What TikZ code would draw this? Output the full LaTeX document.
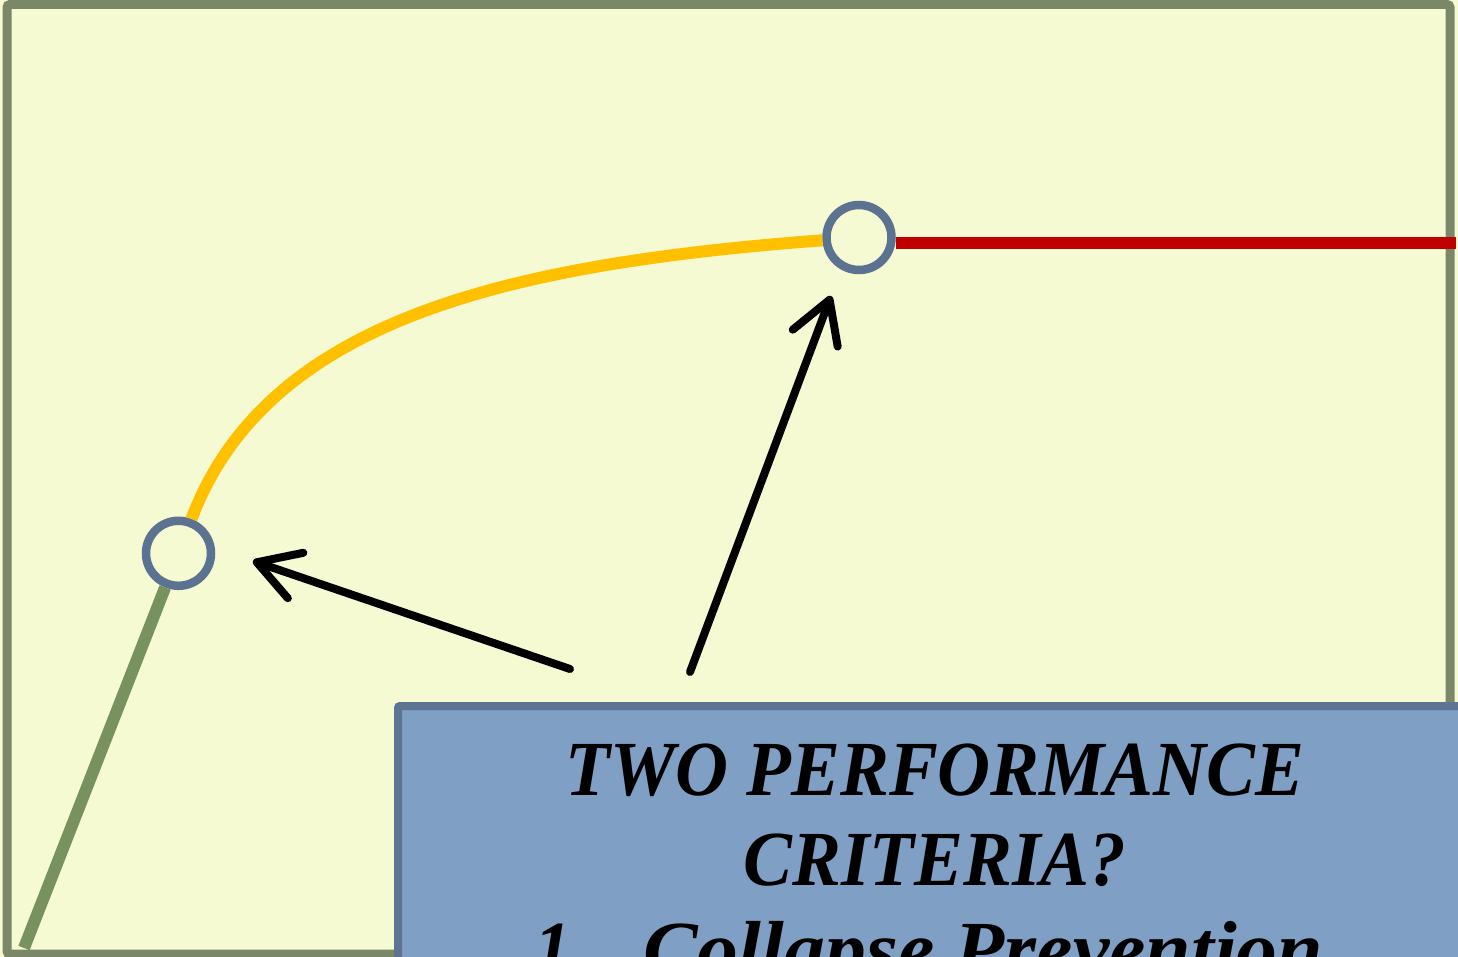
\documentclass[tikz,border=0pt]{standalone}
\usepackage{fontspec}
\usetikzlibrary{arrows.meta}
\newfontfamily\boxfont[FakeStretch=0.94]{Liberation Serif}
\newfontfamily\boxfontwide[FakeStretch=1.05]{Liberation Serif}
\definecolor{bgcol}{HTML}{F5FAD3}
\definecolor{framecol}{HTML}{7A8769}
\definecolor{greencol}{HTML}{77915F}
\definecolor{yellowcol}{HTML}{FFC000}
\definecolor{redcol}{HTML}{C00000}
\definecolor{ringcol}{HTML}{5B7290}
\definecolor{boxfill}{HTML}{7F9FC5}
\definecolor{boxborder}{HTML}{5D7590}
\begin{document}
\begin{tikzpicture}[x=1pt,y=-1pt,
  frame/.style={draw=framecol,line width=9pt,rounded corners=3pt},
  ring/.style={circle,draw=ringcol,fill=bgcol,line width=8.5pt,minimum size=65pt,inner sep=0pt},
  greenline/.style={draw=greencol,line width=12pt},
  yellowline/.style={draw=yellowcol,line width=12pt},
  redline/.style={draw=redcol,line width=12.5pt},
  pointer/.style={draw=black,line width=8pt,line cap=round,-{Straight Barb[length=41pt,width=48pt,round]}},
  panel/.style={draw=boxborder,fill=boxfill,line width=8pt,rounded corners=2pt,minimum width=1100pt,minimum height=320pt,inner sep=0pt},
  txt/.style={anchor=base,inner sep=0pt,font=\boxfont\bfseries\itshape\fontsize{78}{90}\selectfont},
  txtw/.style={anchor=base,inner sep=0pt,font=\boxfontwide\bfseries\itshape\fontsize{78}{90}\selectfont}]
\useasboundingbox (0,0) rectangle (1458,957);
\clip (0,0) rectangle (1458,957);
\fill[bgcol] (0,0) rectangle (1458,957);
\draw[frame] (7,4.5) rectangle (1450,954);
\node[ring] (c1) at (178.5,553.3) {};
\node[ring] (c2) at (859,237.5) {};
\coordinate (gstart) at (24,948);
\coordinate (rend) at (1456,243);
\draw[greenline] (gstart) -- (c1);
\draw[yellowline] (c1) .. controls (267,319) and (509,264) .. (c2);
\draw[redline] (c2.east |- rend) -- (rend);
\coordinate (a1tail) at (570,669);
\coordinate (a1tip) at (253,561);
\coordinate (a2tail) at (690,672);
\coordinate (a2tip) at (831,296);
\draw[pointer] (a1tail) -- (a1tip);
\draw[pointer] (a2tail) -- (a2tip);
\node[panel,anchor=north west] (box) at (394,702) {};
\node[txt] (l1) at (935,795) {TWO PERFORMANCE};
\node[txt] (l2) at (935,885) {CRITERIA?};
\node[txt,anchor=base west] (l3a) at (534,975) {1.};
\node[txtw,anchor=base west] (l3b) at (643,975) {Collapse Prevention};
\end{tikzpicture}
\end{document}
